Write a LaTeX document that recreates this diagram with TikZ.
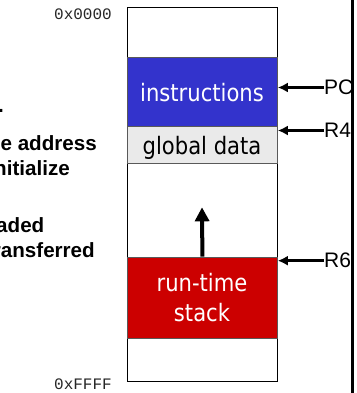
\documentclass[tikz,border=0pt]{standalone}
\usepackage{fontspec}
\setmainfont{Liberation Sans}
\newfontfamily\boxfont[FakeStretch=0.88]{DejaVu Sans}
\newfontfamily\hexfont{Liberation Mono}
\usetikzlibrary{arrows.meta}
\definecolor{instrblue}{RGB}{51,51,204}
\definecolor{stackred}{RGB}{204,0,0}
\definecolor{datagray}{RGB}{234,234,234}
\tikzset{
  region/.style={draw=black!65, line width=0.8pt, minimum width=150pt, anchor=north west, inner sep=0pt},
  boxtext/.style={font=\boxfont\fontsize{24}{30}\selectfont, inner sep=0pt, anchor=base, align=center},
  reglabel/.style={font=\fontsize{21}{24}\selectfont, inner sep=0pt, anchor=west},
  side/.style={font=\bfseries\fontsize{20.6}{25}\selectfont, inner sep=0pt, anchor=base east},
  hexlabel/.style={font=\hexfont\fontsize{16}{18}\selectfont, text=black!85, inner sep=0pt, anchor=base east},
  ptr/.style={line width=2.6pt, -{Latex[length=10pt,width=10pt]}},
  growarrow/.style={line width=4pt, -{Triangle[length=14pt,width=14pt]}}
}
\begin{document}
\begin{tikzpicture}[x=1pt, y=-1pt]
  \useasboundingbox (0,0) rectangle (356,393);
  \clip (0,0) rectangle (356,393);

  % memory column and its regions
  \node[region, draw=black, minimum height=374pt] (mem) at (127,7) {};
  \node[region, fill=instrblue, minimum height=68.4pt] (instr) at (127,57.3) {};
  \node[region, fill=datagray, minimum height=37.6pt] (glob) at (127,125.7) {};
  \node[region, fill=stackred, minimum height=81pt] (stack) at (127,256.7) {};

  \node[boxtext, text=white] (instrtxt) at (202,102) {instructions};
  \node[boxtext, text=black] (globtxt) at (202,154) {global data};
  \node[boxtext, text=white] (stacktxt) at (202,321.7) {run-time\\stack};

  % stack grows toward lower addresses
  \coordinate (growtip) at (202,207.3);
  \draw[growarrow] (stack.north) -- (growtip);

  % address labels
  \node[hexlabel] (lo) at (112,20) {0x0000};
  \node[hexlabel] (hi) at (112,389) {0xFFFF};

  % register pointers
  \node[reglabel] (pc) at (324,87.5) {PC};
  \node[reglabel] (rfour) at (324,130.5) {R4};
  \node[reglabel] (rsix) at (324,260.7) {R6};
  \draw[ptr] (pc.west) -- (pc.west -| mem.east);
  \draw[ptr] (rfour.west) -- (rfour.west -| mem.east);
  \draw[ptr] (rsix.west) -- (rsix.west -| mem.east);

  % description text
  \node[side] (t1) at (4,113) {.};
  \node[side] (t2) at (97,150) {e address};
  \node[side] (t3) at (70,175) {nitialize};
  \node[side] (t4) at (44.5,232) {aded};
  \node[side] (t5) at (95,257.5) {ransferred};

  % divider on the right
  \coordinate (divtop) at (352.5,0);
  \coordinate (divbot) at (352.5,393);
  \draw[line width=3pt] (divtop) -- (divbot);
\end{tikzpicture}
\end{document}
